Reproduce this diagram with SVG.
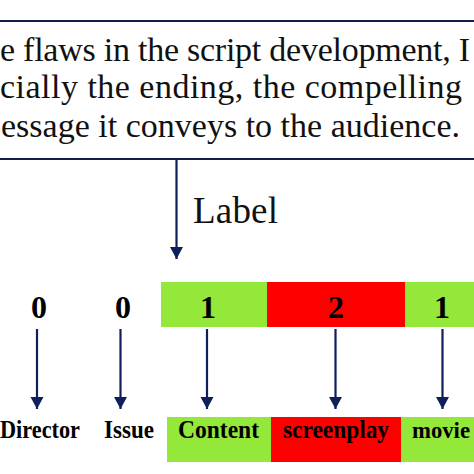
<svg xmlns="http://www.w3.org/2000/svg" width="474" height="474" viewBox="0 0 474 474">
<style>
.frame{stroke:#141c4a;stroke-width:2.2;fill:none}
.conn{stroke:#0f1f5a;stroke-width:2.2;fill:none}
.body{font-family:"Liberation Serif","DejaVu Serif",serif;font-size:34px;fill:#111}
.lab{font-family:"Liberation Serif","DejaVu Serif",serif;font-size:37px;fill:#111}
.num{font-family:"Liberation Serif","DejaVu Serif",serif;font-size:32px;font-weight:bold;fill:#000;text-anchor:middle}
.word{font-family:"Liberation Serif","DejaVu Serif",serif;font-size:26px;font-weight:bold;fill:#000}
.g{fill:#93e83a}
.r{fill:#ff0000}
</style>
<defs>
<marker id="ah" markerUnits="userSpaceOnUse" markerWidth="14" markerHeight="14" viewBox="0 0 14 14" refX="13" refY="7" orient="auto">
<path d="M1,0.5 L13,7 L1,13.5 Z" fill="#0f1f5a"/>
</marker>
</defs>
<rect width="474" height="474" fill="#ffffff"/>
<g id="sentence">
<line class="frame" x1="0" y1="21" x2="474" y2="21"/>
<line class="frame" x1="0" y1="159" x2="474" y2="159"/>
<text class="body" x="0" y="61" textLength="470" lengthAdjust="spacing">e flaws in the script development, I</text>
<text class="body" x="0" y="98" textLength="462" lengthAdjust="spacing">cially the ending, the compelling</text>
<text class="body" x="1" y="137" textLength="459" lengthAdjust="spacing">essage it conveys to the audience.</text>
</g>
<g id="label-text">
<text class="lab" x="193" y="223" textLength="85" lengthAdjust="spacing">Label</text>
</g>
<g id="num-row">
<rect class="g" x="161" y="282" width="106" height="45"/>
<rect class="r" x="267" y="282" width="138" height="45"/>
<rect class="g" x="405" y="282" width="69" height="45"/>
<text class="num" x="39" y="318">0</text>
<text class="num" x="123" y="318">0</text>
<text class="num" x="208" y="318">1</text>
<text class="num" x="336" y="318">2</text>
<text class="num" x="442" y="318">1</text>
</g>
<g id="word-row">
<rect class="g" x="167" y="417" width="104" height="45"/>
<rect class="r" x="271" y="417" width="130" height="45"/>
<rect class="g" x="401" y="417" width="73" height="45"/>
<text class="word" x="0" y="438" textLength="80" lengthAdjust="spacingAndGlyphs">Director</text>
<text class="word" x="104" y="438" textLength="50" lengthAdjust="spacingAndGlyphs">Issue</text>
<text class="word" x="178" y="438" textLength="81" lengthAdjust="spacingAndGlyphs">Content</text>
<text class="word" x="283" y="438" textLength="106" lengthAdjust="spacingAndGlyphs">screenplay</text>
<text class="word" x="412" y="438" style="font-size:24px" textLength="58" lengthAdjust="spacingAndGlyphs">movie</text>
</g>
<g id="connectors">
<line class="conn" x1="176.5" y1="160" x2="176.5" y2="259" marker-end="url(#ah)"/>
<line class="conn" x1="37" y1="329" x2="37" y2="409" marker-end="url(#ah)"/>
<line class="conn" x1="120.5" y1="329" x2="120.5" y2="409" marker-end="url(#ah)"/>
<line class="conn" x1="207" y1="329" x2="207" y2="409" marker-end="url(#ah)"/>
<line class="conn" x1="335.5" y1="329" x2="335.5" y2="409" marker-end="url(#ah)"/>
<line class="conn" x1="442.5" y1="329" x2="442.5" y2="409" marker-end="url(#ah)"/>
</g>
</svg>
